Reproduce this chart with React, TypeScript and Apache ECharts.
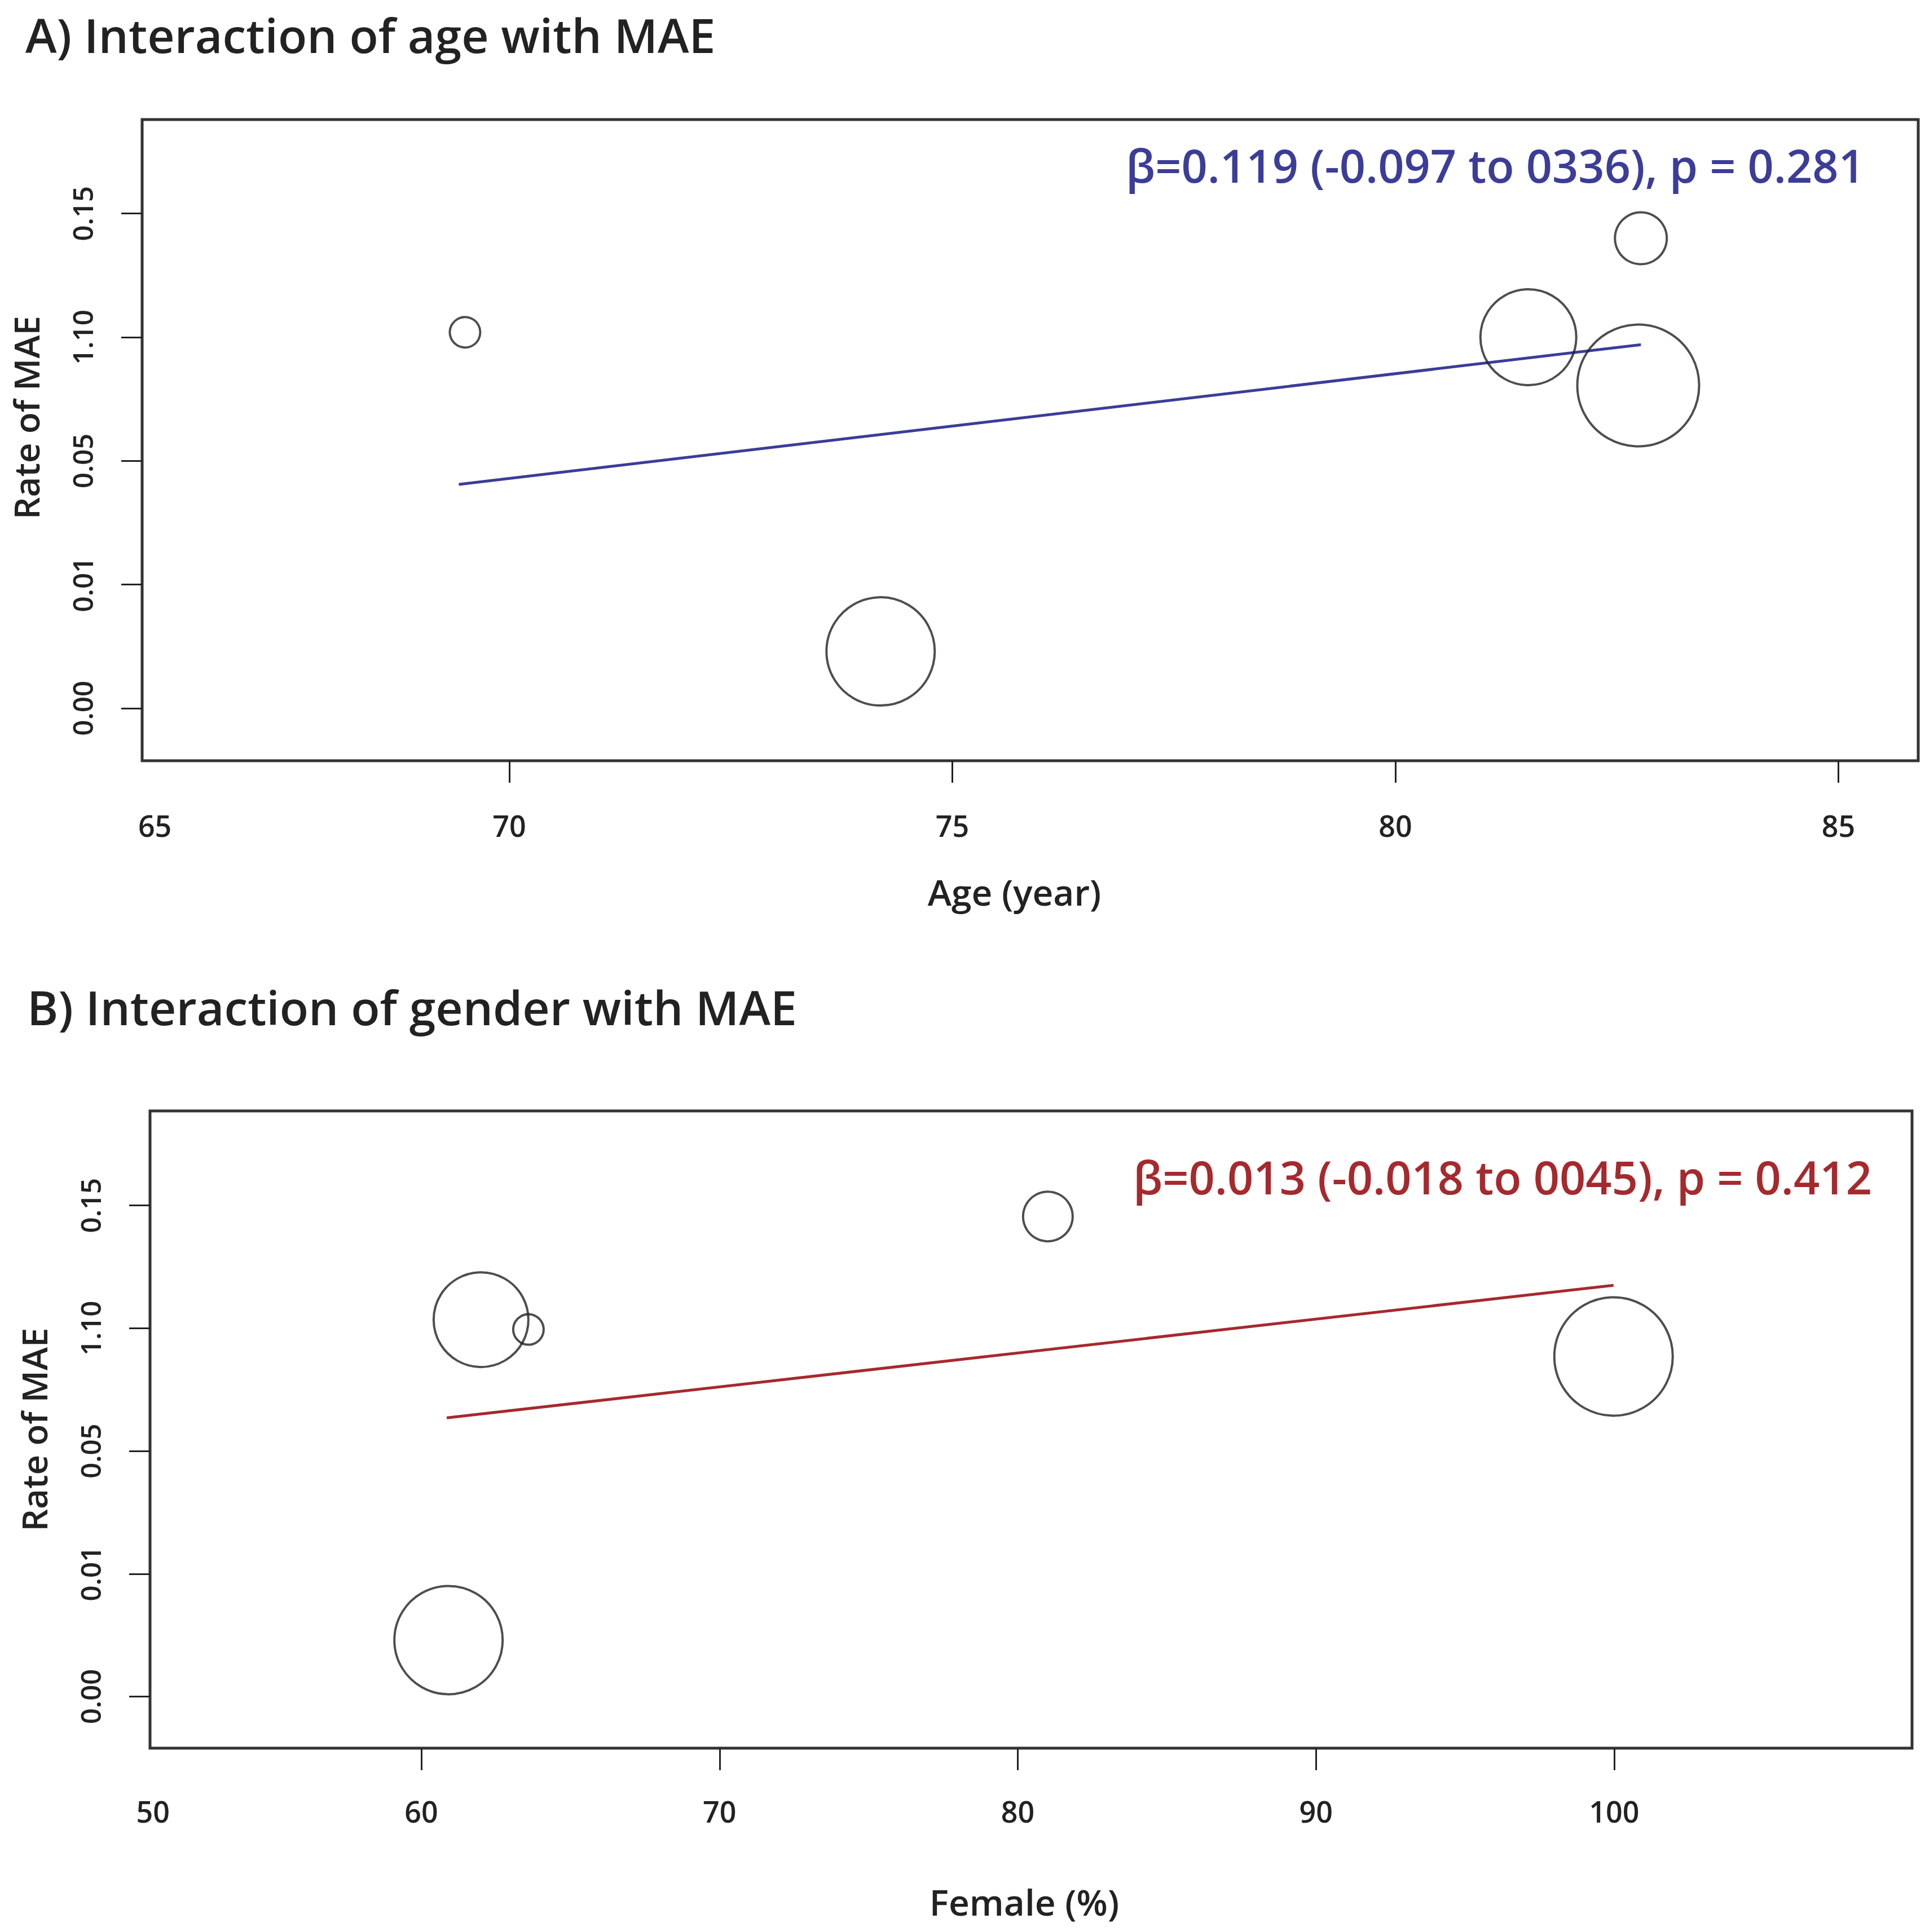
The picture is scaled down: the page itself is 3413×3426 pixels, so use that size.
import React, { useEffect, useRef } from "react";
import * as echarts from "echarts";

// ---- data ----
const yTickPos = [0, 1, 2, 3, 4];
const yTickLabels = ["0.00", "0.01", "0.05", "1.10", "0.15"];

const ageTickValues = [70, 75, 80, 85];
const ageLabelValues = [66, 70, 75, 80, 85];
const ageLabelTexts = ["65", "70", "75", "80", "85"];

const femaleTickValues = [60, 70, 80, 90, 100];
const femaleLabelValues = [51, 60, 70, 80, 90, 100];
const femaleLabelTexts = ["50", "60", "70", "80", "90", "100"];

const ageX = [69.5, 74.19, 81.5, 82.77, 82.74];
const ageY = [3.04, 0.46, 3.0, 3.8, 2.61];
const ageWeight = [2.7, 9.6, 8.5, 4.6, 10.8];
const ageFitX = [69.43, 82.77];
const ageFitY = [1.81, 2.94];

const femaleX = [62.0, 63.59, 81.01, 60.91, 99.98];
const femaleY = [3.07, 2.99, 3.91, 0.46, 2.77];
const femaleWeight = [8.4, 2.7, 4.4, 9.6, 10.5];
const femaleFitX = [60.85, 99.98];
const femaleFitY = [2.27, 3.35];

const titleA = "A) Interaction of age with MAE";
const titleB = "B) Interaction of gender with MAE";
const annotA = "β=0.119 (-0.097 to 0336), p = 0.281";
const annotB = "β=0.013 (-0.018 to 0045), p = 0.412";
const yName = "Rate of MAE";
const xNameA = "Age (year)";
const xNameB = "Female (%)";

const FONT = "'Open Sans', 'Noto Sans', sans-serif";
const INK = "#222222";
const BLUE = "#3b3d98";
const RED = "#a6292e";

function xAxisFor(gridIndex: number, min: number, max: number, ticks: number[], labVals: number[], labTexts: string[], name: string, nameGap: number, margin: number, namePad: number[]) {
  return {
    type: "value",
    gridIndex,
    min,
    max,
    axisLine: { show: false, onZero: false },
    splitLine: { show: false },
    axisTick: { show: true, customValues: ticks, length: 39, inside: false, lineStyle: { color: INK, width: 3 } },
    axisLabel: {
      show: true,
      customValues: labVals,
      formatter: (v: number) => {
        const i = labVals.indexOf(v);
        return i >= 0 ? labTexts[i] : "";
      },
      fontFamily: FONT,
      fontSize: 52,
      fontWeight: 600,
      color: INK,
      margin,
    },
    name,
    nameLocation: "middle",
    nameGap,
    nameTextStyle: { fontFamily: FONT, fontSize: 64, fontWeight: 600, color: INK, padding: namePad },
  };
}

function yAxisFor(gridIndex: number, min: number, max: number, namePad: number[]) {
  return {
    type: "value",
    gridIndex,
    min,
    max,
    axisLine: { show: false, onZero: false },
    splitLine: { show: false },
    axisTick: { show: true, customValues: yTickPos, length: 37, inside: false, lineStyle: { color: INK, width: 3 } },
    axisLabel: {
      show: true,
      customValues: yTickPos,
      rotate: 90,
      formatter: (v: number) => {
        const i = yTickPos.indexOf(v);
        return i >= 0 ? yTickLabels[i] : "";
      },
      fontFamily: FONT,
      fontSize: 49,
      fontWeight: 600,
      color: INK,
      margin: 82,
    },
    name: yName,
    nameLocation: "middle",
    nameGap: 175,
    nameRotate: 90,
    nameTextStyle: { fontFamily: FONT, fontSize: 62, fontWeight: 600, color: INK, padding: namePad },
  };
}

export default function App() {
  const ref = useRef<HTMLDivElement>(null);
  useEffect(() => {
    if (!ref.current) return;
    const chart = echarts.init(ref.current, null, { renderer: "svg" });
    const bubbleStyle = { color: "rgba(0,0,0,0)", borderColor: INK, borderWidth: 4 };
    const option = {
      animation: false,
      backgroundColor: "#ffffff",
      title: [
        { text: titleA, left: 40, top: 14, textStyle: { fontFamily: FONT, fontSize: 84, fontWeight: 600, color: INK } },
        { text: titleB, left: 43, top: 1738, textStyle: { fontFamily: FONT, fontSize: 84, fontWeight: 600, color: INK } },
      ],
      grid: [
        { left: 252, top: 212, width: 3149, height: 1137, show: true, borderColor: "#333333", borderWidth: 5, backgroundColor: "#ffffff" },
        { left: 266, top: 1970, width: 3124, height: 1130, show: true, borderColor: "#333333", borderWidth: 5, backgroundColor: "#ffffff" },
      ],
      xAxis: [
        xAxisFor(0, 65.856, 85.9, ageTickValues, ageLabelValues, ageLabelTexts, xNameA, 200, 88, [0, 56, 0, 0]),
        xAxisFor(1, 50.9, 109.99, femaleTickValues, femaleLabelValues, femaleLabelTexts, xNameB, 240, 85, [0, 24, 0, 0]),
      ],
      yAxis: [yAxisFor(0, -0.424, 4.76, [0, 0, 0, 80]), yAxisFor(1, -0.42, 4.77, [0, 0, 0, 0])],
      graphic: [
        {
          type: "text",
          right: 3413 - 3306,
          top: 252,
          style: { text: annotA, fill: BLUE, font: `600 81px ${FONT}` },
        },
        {
          type: "text",
          right: 3413 - 3319,
          top: 2046,
          style: { text: annotB, fill: RED, font: `600 81px ${FONT}` },
        },
      ],
      series: [
        {
          type: "line",
          xAxisIndex: 0,
          yAxisIndex: 0,
          data: ageFitX.map((x, i) => [x, ageFitY[i]]),
          showSymbol: false,
          symbol: "none",
          lineStyle: { color: BLUE, width: 5 },
          z: 3,
        },
        {
          type: "scatter",
          xAxisIndex: 0,
          yAxisIndex: 0,
          data: ageX.map((x, i) => [x, ageY[i], ageWeight[i]]),
          symbol: "circle",
          symbolSize: (v: number[]) => v[2] * 20,
          itemStyle: bubbleStyle,
          z: 4,
        },
        {
          type: "line",
          xAxisIndex: 1,
          yAxisIndex: 1,
          data: femaleFitX.map((x, i) => [x, femaleFitY[i]]),
          showSymbol: false,
          symbol: "none",
          lineStyle: { color: RED, width: 5 },
          z: 3,
        },
        {
          type: "scatter",
          xAxisIndex: 1,
          yAxisIndex: 1,
          data: femaleX.map((x, i) => [x, femaleY[i], femaleWeight[i]]),
          symbol: "circle",
          symbolSize: (v: number[]) => v[2] * 20,
          itemStyle: bubbleStyle,
          z: 4,
        },
      ],
    };
    chart.setOption(option as any);
    return () => chart.dispose();
  }, []);
  return (
    <div
      ref={ref}
      style={{ position: "absolute", left: 0, top: 0, width: 3413, height: 3426, background: "#fff" }}
    />
  );
}
